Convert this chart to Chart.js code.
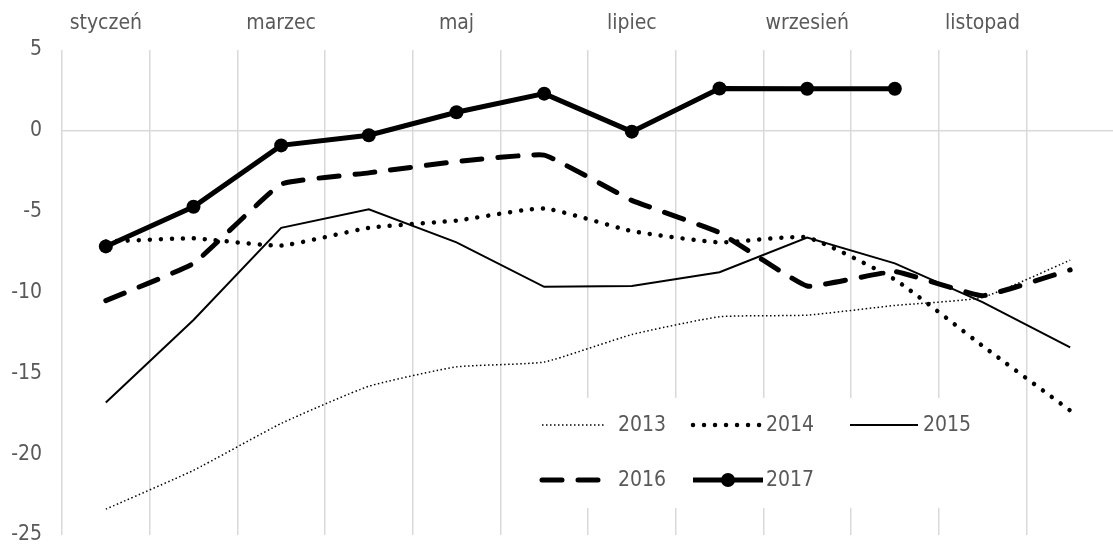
<!DOCTYPE html>
<html>
<head>
<meta charset="utf-8">
<script src="https://cdn.jsdelivr.net/npm/chart.js@4"></script>
<style>
  html, body { margin: 0; padding: 0; background: #fff; overflow: hidden; }
  #wrap { position: relative; width: 1113px; height: 545px; overflow: hidden; }
  #wrap canvas { display: block; max-width: none !important; width: 1121px !important; height: 545px !important; }
</style>
</head>
<body>
<!-- the plot area runs a few pixels past the right edge, so the canvas is wider than the frame -->
<div id="wrap"><canvas id="chart" width="1121" height="545"></canvas></div>
<script>
const months = ['styczeń', 'luty', 'marzec', 'kwiecień', 'maj', 'czerwiec', 'lipiec', 'sierpień', 'wrzesień', 'październik', 'listopad', 'grudzień']
const years = ['2013', '2014', '2015', '2016', '2017']
const v2013 = [-23.4, -21.0, -18.1, -15.8, -14.6, -14.3, -12.6, -11.5, -11.4, -10.8, -10.3, -8.0]
const v2014 = [-6.85, -6.65, -7.1, -6.0, -5.55, -4.8, -6.2, -6.9, -6.6, -9.2, -13.3, -17.3]
const v2015 = [-16.8, -11.7, -6.0, -4.85, -6.9, -9.65, -9.6, -8.75, -6.6, -8.2, -10.6, -13.4]
const v2016 = [-10.5, -8.2, -3.3, -2.6, -1.9, -1.5, -4.3, -6.3, -9.6, -8.7, -10.2, -8.6]
const v2017 = [-7.15, -4.7, -0.9, -0.27, 1.15, 2.3, -0.05, 2.62, 2.6, 2.6, null, null]
const yTicks = [5, 0, -5, -10, -15, -20, -25]

const FONT = "'DejaVu Sans Condensed', 'Liberation Sans Narrow', 'DejaVu Sans', sans-serif"
const TEXT = '#595959'
const GRID = '#d9d9d9'

// legend item spots: [lineStart, lineEnd, textX, rowY]
const legendSpots = [
  [542, 605, 618, 425],
  [693, 763, 766, 425],
  [850, 918, 923, 425],
  [542, 605, 618, 480],
  [693, 763, 766, 480]
]

const legendBox = {
  id: 'legendBox',
  beforeDatasetsDraw(chart) {
    const ctx = chart.ctx
    ctx.save()
    ctx.fillStyle = '#fff'
    ctx.fillRect(530, 398, 458, 110)
    ctx.restore()
  },
  afterDraw(chart) {
    const ctx = chart.ctx
    chart.data.datasets.forEach((ds, i) => {
      const [x1, x2, tx, y] = legendSpots[i]
      ctx.save()
      ctx.strokeStyle = ds.borderColor
      ctx.lineWidth = ds.borderWidth
      ctx.lineCap = ds.borderCapStyle || 'butt'
      ctx.setLineDash(ds.borderDash || [])
      ctx.beginPath()
      ctx.moveTo(x1, y)
      ctx.lineTo(x2, y)
      ctx.stroke()
      if (ds.pointRadius > 0) {
        ctx.setLineDash([])
        ctx.fillStyle = ds.pointBackgroundColor
        ctx.beginPath()
        ctx.arc((x1 + x2) / 2, y, ds.pointRadius, 0, Math.PI * 2)
        ctx.fill()
      }
      ctx.fillStyle = TEXT
      ctx.font = '21px ' + FONT
      ctx.textAlign = 'left'
      ctx.textBaseline = 'middle'
      ctx.fillText(ds.label, tx, y + 1)
      ctx.restore()
    })
  }
}

new Chart(document.getElementById('chart'), {
  type: 'line',
  data: {
    labels: months,
    datasets: [
      { label: years[0], data: v2013, borderColor: '#000', borderWidth: 1.5, borderDash: [1.5, 2.5], pointRadius: 0, tension: 0.15 },
      { label: years[1], data: v2014, borderColor: '#000', borderWidth: 4.5, borderDash: [0.01, 11], borderCapStyle: 'round', pointRadius: 0, tension: 0.15 },
      { label: years[2], data: v2015, borderColor: '#000', borderWidth: 2, pointRadius: 0, tension: 0 },
      { label: years[3], data: v2016, borderColor: '#000', borderWidth: 5, borderDash: [20, 16], borderCapStyle: 'round', pointRadius: 0, tension: 0.1 },
      { label: years[4], data: v2017, borderColor: '#000', borderWidth: 5, pointRadius: 7, pointBackgroundColor: '#000', pointBorderWidth: 0, tension: 0 }
    ]
  },
  plugins: [legendBox],
  options: {
    responsive: false,
    animation: false,
    layout: { padding: { top: 0, right: 0, bottom: 10, left: 0 } },
    plugins: {
      legend: { display: false },
      tooltip: { enabled: false }
    },
    scales: {
      x: {
        position: 'top',
        offset: true,
        grid: { offset: true, color: GRID, lineWidth: 1.5, drawTicks: false },
        border: { display: false },
        ticks: {
          autoSkip: false,
          maxRotation: 0,
          padding: 14,
          color: TEXT,
          font: { family: FONT, size: 21 },
          callback: function (v, i) { return i % 2 === 0 ? this.getLabelForValue(v) : '' }
        },
        afterFit: (s) => { s.height = 50; s.paddingLeft = 0; s.paddingRight = 0 }
      },
      y: {
        min: -25,
        max: 5,
        afterBuildTicks: (s) => { s.ticks = yTicks.map(v => ({ value: v })) },
        grid: {
          drawTicks: false,
          lineWidth: 1.5,
          color: (c) => (c.tick && c.tick.value === 0 ? GRID : 'rgba(0,0,0,0)')
        },
        border: { display: false },
        ticks: {
          padding: 20,
          color: TEXT,
          font: { family: FONT, size: 21 }
        },
        afterFit: (s) => { s.width = 62; s.paddingTop = 0; s.paddingBottom = 0 }
      }
    }
  }
})
</script>
</body>
</html>
